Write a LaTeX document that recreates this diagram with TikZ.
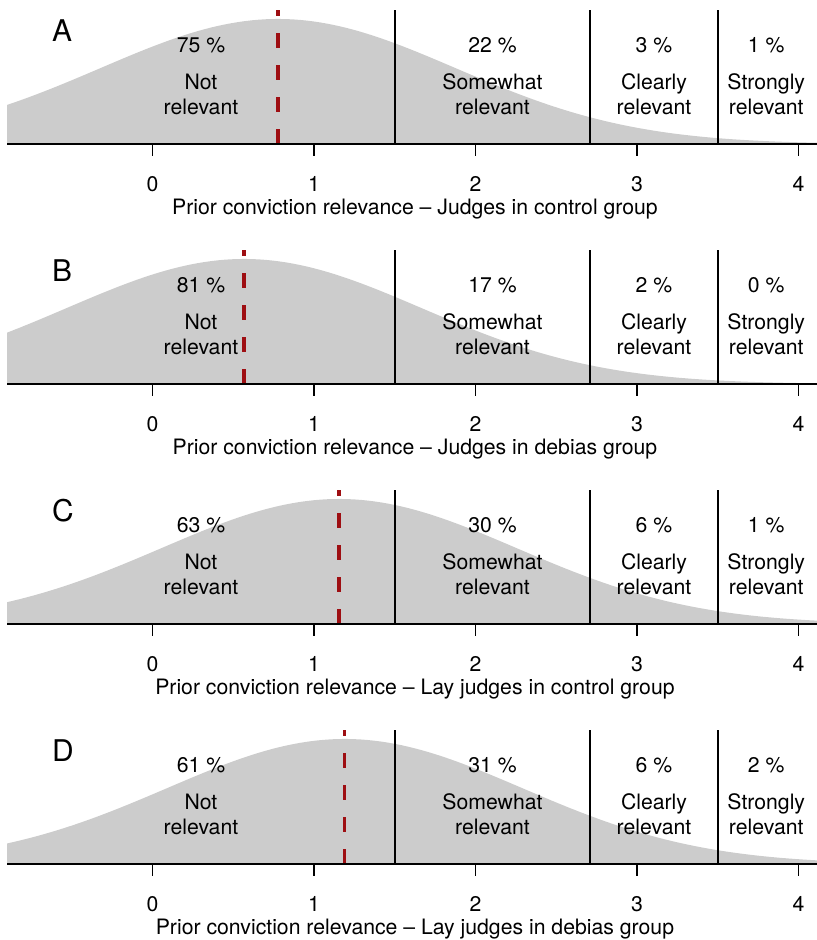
\documentclass[tikz,border=0pt]{standalone}
\usepackage{fontspec}
\setmainfont{TeX Gyre Heros}
\definecolor{densgray}{gray}{0.8}
\definecolor{meanred}{HTML}{9E0E12}

\begin{document}
\begin{tikzpicture}[x=1bp,y=1bp,
    lab/.style={font=\fontsize{21.3}{25}\selectfont, align=center, inner sep=0pt},
    letter/.style={font=\fontsize{30}{30}\selectfont, anchor=west, inner sep=0pt},
    cut/.style={line width=1.6bp},
    meanline/.style={line width=3.6bp, meanred, dash pattern=on 15bp off 17bp}]
    \useasboundingbox (0,0) rectangle (817,940);
    % one panel per group
    \foreach \lett/\m/\pa/\pb/\pc/\pd/\grp [count=\k from 0] in {
        A/0.777/75/22/3/1/Judges in control group,
        B/0.567/81/17/2/0/Judges in debias group,
        C/1.155/63/30/6/1/Lay judges in control group,
        D/1.19/61/31/6/2/Lay judges in debias group}{
    \begin{scope}[shift={(0,{796-240*\k})}, x=161.5bp, y=1bp, xshift=152.5bp]
        \fill[densgray] (-0.9,0) -- plot[domain=-0.9:4.115, samples=120]
            (\x,{125*exp(-1*((\x-\m)^2)/2.42)}) -- (4.115,0) -- cycle;
        \draw[meanline] (\m,0) -- (\m,134);
        \foreach \c in {1.5,2.71,3.5}
            \draw[cut] (\c,0) -- (\c,134);
        \draw[cut] (-0.9,0) -- (4.115,0);
        \foreach \t in {0,...,4}{
            \draw[cut] (\t,0) -- (\t,-12);
            \node[lab] (tick\lett\t) at (\t,-40) {\t};
        }
        \node[lab] (title\lett) at (1.625,-65) {Prior conviction relevance -- \grp};
        \node[letter] (panel\lett) at (-0.622,113) {\lett};
        \node[lab] (pct\lett1) at (0.3,99) {\pa\ \%};
        \node[lab] (pct\lett2) at (2.105,99) {\pb\ \%};
        \node[lab] (pct\lett3) at (3.105,99) {\pc\ \%};
        \node[lab] (pct\lett4) at (3.8,99) {\pd\ \%};
        \node[lab] (cat\lett1) at (0.3,50) {Not\\relevant};
        \node[lab] (cat\lett2) at (2.105,50) {Somewhat\\relevant};
        \node[lab] (cat\lett3) at (3.105,50) {Clearly\\relevant};
        \node[lab] (cat\lett4) at (3.8,50) {Strongly\\relevant};
    \end{scope}
    }
\end{tikzpicture}
\end{document}
